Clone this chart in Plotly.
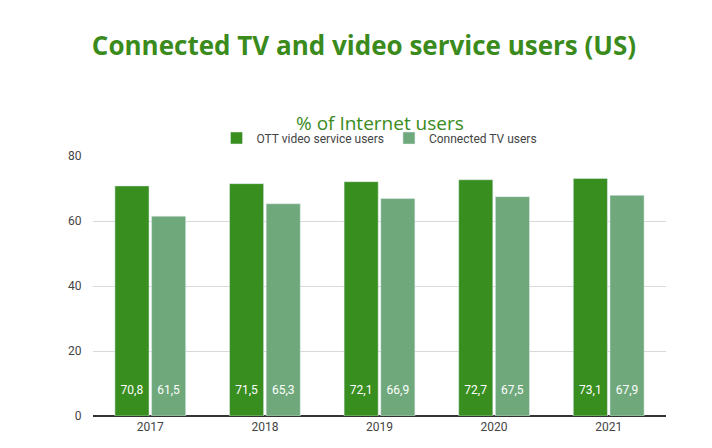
import plotly.graph_objects as go

years = ["2017", "2018", "2019", "2020", "2021"]
ott_users = [70.8, 71.5, 72.1, 72.7, 73.1]
ctv_users = [61.5, 65.3, 66.9, 67.5, 67.9]


def fmt(v):
    return f"{v:.1f}".replace(".", ",")


fig = go.Figure()
fig.add_trace(go.Bar(
    x=years, y=ott_users, name="OTT video service users",
    marker_color="#388e1f",
    text=[fmt(v) + "<br> " for v in ott_users], textposition="inside",
    insidetextanchor="start", textfont=dict(color="white", size=12),
))
fig.add_trace(go.Bar(
    x=years, y=ctv_users, name="Connected TV users",
    marker_color="#6fa97b",
    text=[fmt(v) + "<br> " for v in ctv_users], textposition="inside",
    insidetextanchor="start", textfont=dict(color="white", size=12),
))

fig.update_layout(
    width=712, height=448,
    paper_bgcolor="white", plot_bgcolor="white",
    font=dict(family="Roboto", color="#444", size=12),
    title=dict(
        text="<b>Connected TV and video service users (US)</b>",
        x=0.5, y=0.915, xanchor="center", yanchor="middle",
        font=dict(family="Open Sans", size=26, color="#3a8b1c"),
    ),
    annotations=[dict(
        text="% of Internet users", xref="paper", yref="paper",
        x=0.5, y=1.0, yshift=48, showarrow=False,
        font=dict(family="Open Sans", size=19, color="#3a8b1c"),
    )],
    legend=dict(orientation="h", x=0.5, xanchor="center", y=1.125,
                font=dict(size=12, color="#444")),
    margin=dict(l=85, r=54, t=148, b=40, autoexpand=False),
    bargap=0.36, bargroupgap=0.07,
    yaxis=dict(range=[0, 80], dtick=20, gridcolor="#d9d9d9",
               zeroline=True, zerolinecolor="#333", ticks="outside",
               ticklen=8, tickcolor="white", automargin=False),
    xaxis=dict(showline=True, linecolor="#333", automargin=False),
    uniformtext=dict(minsize=10, mode="show"),
)

fig.write_html("out.html")
